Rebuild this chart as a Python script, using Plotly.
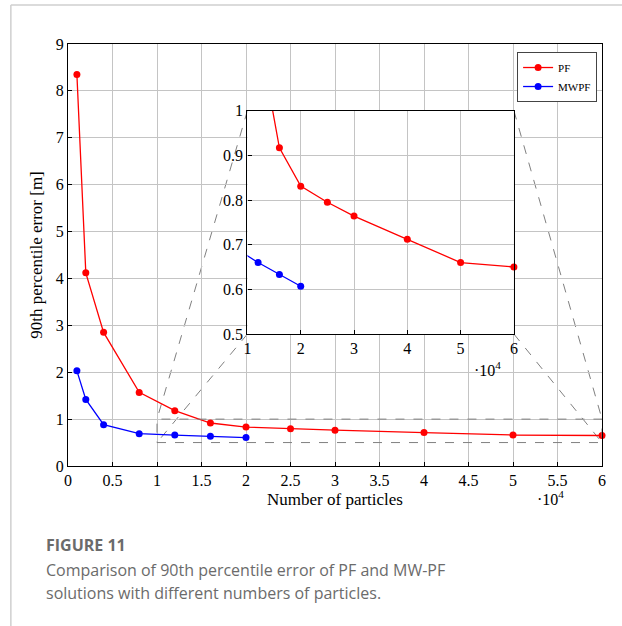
import plotly.graph_objects as go

# ---- data ----
particles = [1000, 2000, 4000, 8000, 12000, 16000, 20000, 25000, 30000, 40000, 50000, 60000]
pf_err = [8.35, 4.12, 2.85, 1.57, 1.18, 0.917, 0.831, 0.795, 0.764, 0.712, 0.660, 0.650]
mw_particles = [1000, 2000, 4000, 8000, 12000, 16000, 20000]
mwpf_err = [2.03, 1.42, 0.88, 0.69, 0.66, 0.633, 0.607]
x_ticks = [0, 0.5, 1, 1.5, 2, 2.5, 3, 3.5, 4, 4.5, 5, 5.5, 6]
inset_x_range = [1, 6]
inset_y_range = [0.5, 1.0]

SCALE = 1e4
RED = "#ff0000"
BLUE = "#0000ff"
SERIF = "Liberation Serif, DejaVu Serif, serif"
GRID = "#c4c4c4"

px = [p / SCALE for p in particles]
mx = [p / SCALE for p in mw_particles]

fig = go.Figure()

# main traces
fig.add_trace(go.Scatter(x=px, y=pf_err, mode="lines+markers", name="PF",
                         line=dict(color=RED, width=1.3), marker=dict(size=7, color=RED),
                         cliponaxis=False, xaxis="x", yaxis="y"))
fig.add_trace(go.Scatter(x=mx, y=mwpf_err, mode="lines+markers", name="MWPF",
                         line=dict(color=BLUE, width=1.3), marker=dict(size=7, color=BLUE),
                         cliponaxis=False, xaxis="x", yaxis="y"))

# inset traces: lines (clipped) + markers in range
for xs, ys, c in [(px, pf_err, RED), (mx, mwpf_err, BLUE)]:
    fig.add_trace(go.Scatter(x=xs, y=ys, mode="lines", line=dict(color=c, width=1.3),
                             showlegend=False, xaxis="x2", yaxis="y2", hoverinfo="skip"))
    ix = [(a, b) for a, b in zip(xs, ys)
          if inset_x_range[0] <= a <= inset_x_range[1] and inset_y_range[0] <= b <= inset_y_range[1]]
    fig.add_trace(go.Scatter(x=[a for a, _ in ix], y=[b for _, b in ix], mode="markers",
                             marker=dict(size=7, color=c), cliponaxis=False,
                             showlegend=False, xaxis="x2", yaxis="y2"))

main_x_range = [0, 6]
main_y_range = [0, 9]
inset_dom_x = [0.336, 0.835]
inset_dom_y = [0.3128, 0.842]

axis_common = dict(showline=True, linecolor="black", linewidth=1.3, mirror=True,
                   showgrid=True, gridcolor=GRID, gridwidth=1, zeroline=False,
                   ticks="inside", ticklen=4, tickcolor="black",
                   tickfont=dict(family=SERIF, size=16, color="black"))

fig.update_layout(
    width=622, height=626,
    margin=dict(l=68, r=20, t=44, b=160),
    paper_bgcolor="white", plot_bgcolor="white",
    font=dict(family=SERIF, size=16, color="black"),
    showlegend=True,
    legend=dict(x=0.841, y=0.981, xanchor="left", yanchor="top",
                bgcolor="white", bordercolor="#444444", borderwidth=1,
                font=dict(family=SERIF, size=11, color="black"),
                itemwidth=30, tracegroupgap=0),
    xaxis=dict(range=main_x_range, tickvals=x_ticks, domain=[0, 1],
               title=dict(text="Number of particles", font=dict(family=SERIF, size=17, color="black"), standoff=4),
               **axis_common),
    yaxis=dict(range=main_y_range, dtick=1, domain=[0, 1],
               title=dict(text="90th percentile error [m]", font=dict(family=SERIF, size=17, color="black"), standoff=8),
               **axis_common),
    xaxis2=dict(range=inset_x_range, dtick=1, domain=inset_dom_x, anchor="y2", **axis_common),
    yaxis2=dict(range=inset_y_range, dtick=0.1, domain=inset_dom_y, anchor="x2", **axis_common),
)

# zoom rectangle and connector lines (in main data coords)
def to_main(dx, dy):
    return (main_x_range[0] + dx * (main_x_range[1] - main_x_range[0]),
            main_y_range[0] + dy * (main_y_range[1] - main_y_range[0]))

dash = dict(color="#808080", width=1, dash="dash")
fig.add_shape(type="rect", xref="x", yref="y", x0=inset_x_range[0], x1=inset_x_range[1],
              y0=inset_y_range[0], y1=inset_y_range[1], line=dash, layer="above")
corners = [
    (inset_dom_x[0], inset_dom_y[1], inset_x_range[0], inset_y_range[1]),
    (inset_dom_x[0], inset_dom_y[0], inset_x_range[0], inset_y_range[0]),
    (inset_dom_x[1], inset_dom_y[1], inset_x_range[1], inset_y_range[1]),
    (inset_dom_x[1], inset_dom_y[0], inset_x_range[1], inset_y_range[0]),
]
for dx, dy, rx, ry in corners:
    cx, cy = to_main(dx, dy)
    fig.add_shape(type="line", xref="x", yref="y", x0=cx, y0=cy, x1=rx, y1=ry,
                  line=dash, layer="below")

# multiplier labels
fig.add_annotation(text="·10<sup>4</sup>", xref="paper", yref="paper", x=0.903, y=-0.075,
                   showarrow=False, font=dict(family=SERIF, size=16, color="black"),
                   xanchor="center", yanchor="middle")
fig.add_annotation(text="·10<sup>4</sup>", xref="paper", yref="paper", x=0.785, y=0.231,
                   showarrow=False, font=dict(family=SERIF, size=16, color="black"),
                   xanchor="center", yanchor="middle")

# page frame lines
fig.add_shape(type="line", xref="paper", yref="paper", x0=-0.107, x1=1.05, y0=1.0924, y1=1.0924,
              line=dict(color="#cfcfcf", width=1.5))
fig.add_shape(type="line", xref="paper", yref="paper", x0=-0.107, x1=-0.107, y0=1.0924, y1=-0.40,
              line=dict(color="#cfcfcf", width=1.5))

# caption
CAP = "#6b6b6b"
fig.add_annotation(text="<b>FIGURE 11</b>", xref="paper", yref="paper", x=-0.045, y=-0.187,
                   xanchor="left", yanchor="middle", showarrow=False,
                   font=dict(family="Open Sans", size=16, color=CAP))
fig.add_annotation(text="Comparison of 90th percentile error of PF and MW-PF", xref="paper", yref="paper",
                   x=-0.045, y=-0.246, xanchor="left", yanchor="middle", showarrow=False,
                   font=dict(family="Open Sans", size=16, color=CAP))
fig.add_annotation(text="solutions with different numbers of particles.", xref="paper", yref="paper",
                   x=-0.045, y=-0.300, xanchor="left", yanchor="middle", showarrow=False,
                   font=dict(family="Open Sans", size=16, color=CAP))

fig.write_html("out.html")
